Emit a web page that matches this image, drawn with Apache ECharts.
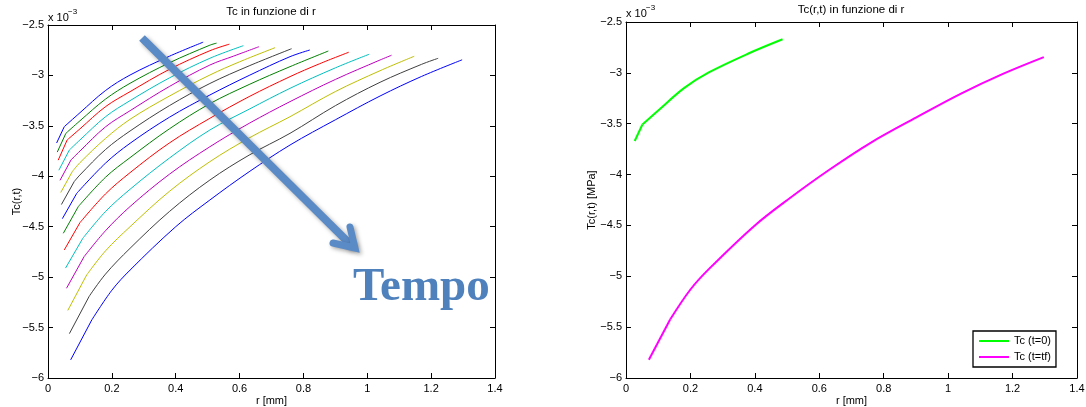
<!DOCTYPE html>
<html>
<head>
<meta charset="utf-8">
<script src="https://cdn.jsdelivr.net/npm/echarts@6/dist/echarts.min.js"></script>
<style>
  html, body { margin: 0; padding: 0; background: #fff; }
  #chart { width: 1086px; height: 407px; }
</style>
</head>
<body>
<div id="chart"></div>
<script>
// Radial positions r [mm] for each time step (one curve per step)
const rCurves = [
  [0.027, 0.051, 0.1, 0.18, 0.257, 0.38, 0.486],
  [0.029, 0.056, 0.1, 0.18, 0.257, 0.38, 0.507, 0.528],
  [0.032, 0.060, 0.1, 0.18, 0.257, 0.38, 0.507, 0.568],
  [0.034, 0.067, 0.1, 0.18, 0.257, 0.38, 0.507, 0.612],
  [0.0376, 0.072, 0.1, 0.18, 0.257, 0.38, 0.507, 0.58, 0.661],
  [0.040, 0.076, 0.1, 0.18, 0.257, 0.38, 0.507, 0.6, 0.711],
  [0.042, 0.082, 0.1, 0.18, 0.257, 0.38, 0.507, 0.63, 0.763],
  [0.045, 0.090, 0.18, 0.257, 0.38, 0.507, 0.63, 0.758, 0.82],
  [0.048, 0.095, 0.18, 0.257, 0.38, 0.507, 0.63, 0.758, 0.878],
  [0.051, 0.100, 0.18, 0.257, 0.38, 0.507, 0.63, 0.758, 0.85, 0.942],
  [0.055, 0.109, 0.18, 0.257, 0.38, 0.507, 0.63, 0.758, 0.9, 1.006],
  [0.058, 0.113, 0.18, 0.257, 0.38, 0.507, 0.63, 0.758, 0.9, 1.04, 1.076],
  [0.062, 0.121, 0.18, 0.257, 0.38, 0.507, 0.63, 0.758, 0.9, 1.04, 1.147],
  [0.067, 0.129, 0.18, 0.257, 0.38, 0.507, 0.63, 0.758, 0.9, 1.04, 1.17, 1.222],
  [0.071, 0.137, 0.2, 0.257, 0.4, 0.507, 0.63, 0.758, 0.9, 1.04, 1.17, 1.297]
];

// Tc(r,t) values, in units of 10^-3 MPa, matching rCurves point by point
const tcCurves = [
  [-3.67, -3.508, -3.37, -3.15, -2.996, -2.81, -2.67],
  [-3.76, -3.574, -3.45, -3.235, -3.078, -2.875, -2.70, -2.68],
  [-3.84, -3.64, -3.53, -3.31, -3.161, -2.94, -2.755, -2.69],
  [-3.94, -3.739, -3.64, -3.41, -3.25, -3.025, -2.83, -2.705],
  [-4.04, -3.838, -3.75, -3.51, -3.35, -3.11, -2.897, -2.81, -2.715],
  [-4.16, -3.954, -3.865, -3.625, -3.435, -3.205, -2.996, -2.865, -2.725],
  [-4.28, -4.053, -3.987, -3.735, -3.551, -3.30, -3.08, -2.905, -2.735],
  [-4.42, -4.169, -3.87, -3.673, -3.415, -3.194, -3.0, -2.814, -2.748],
  [-4.565, -4.30, -4.01, -3.815, -3.53, -3.28, -3.09, -2.913, -2.758],
  [-4.73, -4.46, -4.175, -3.964, -3.67, -3.425, -3.21, -3.012, -2.885, -2.77],
  [-4.91, -4.615, -4.35, -4.129, -3.82, -3.541, -3.335, -3.128, -2.925, -2.79],
  [-5.11, -4.797, -4.54, -4.30, -3.98, -3.707, -3.475, -3.26, -3.04, -2.847, -2.80],
  [-5.33, -4.979, -4.74, -4.50, -4.15, -3.855, -3.62, -3.409, -3.16, -2.953, -2.81],
  [-5.56, -5.19, -4.97, -4.714, -4.35, -4.037, -3.79, -3.574, -3.30, -3.068, -2.89, -2.83],
  [-5.82, -5.425, -5.13, -4.93, -4.5, -4.235, -3.955, -3.69, -3.44, -3.204, -3.01, -2.845]
];

// MATLAB-style colour cycle for the time-step curves
const cycleColors = ['#0000ff', '#008000', '#ff0000', '#00bfbf', '#bf00bf', '#bfbf00', '#404040'];

// Series shown in the comparison panel: first and last time step
const compareNames = ['Tc (t=0)', 'Tc (t=tf)'];
const compareColors = ['#00ff00', '#ff00ff'];
const compareIdx = [0, tcCurves.length - 1];

// Axis ranges (Tc in 10^-3 MPa)
const rRange = { min: 0, max: 1.4, step: 0.2 };
const tcRange = { min: -6, max: -2.5, step: 0.5 };

const FONT = '"Liberation Sans", Arial, Helvetica, sans-serif';
const pairs = (rs, ts) => rs.map((r, i) => [r, ts[i]]);
const minusFmt = v => (v < 0 ? '\u2212' : '') + String(Math.abs(Math.round(v * 1000) / 1000));

function xAx(gridIndex, pos, withLabels, name) {
  return {
    type: 'value', gridIndex, position: pos,
    min: rRange.min, max: rRange.max, interval: rRange.step,
    name: withLabels ? name : '', nameLocation: 'middle', nameGap: 17, nameMoveOverlap: false,
    nameTextStyle: { fontFamily: FONT, fontSize: 11, color: '#000' },
    axisLine: { show: true, onZero: false, lineStyle: { color: '#000', width: 1 } },
    axisTick: { show: true, inside: true, length: 5, lineStyle: { color: '#000' } },
    axisLabel: { show: withLabels, margin: 5, fontFamily: FONT, fontSize: 11, color: '#000' },
    splitLine: { show: false }
  };
}
function yAx(gridIndex, pos, withLabels, name, gap) {
  return {
    type: 'value', gridIndex, position: pos,
    min: tcRange.min, max: tcRange.max, interval: tcRange.step,
    name: withLabels ? name : '', nameLocation: 'middle', nameGap: gap, nameMoveOverlap: false,
    nameTextStyle: { fontFamily: FONT, fontSize: 11, color: '#000' },
    axisLine: { show: true, onZero: false, lineStyle: { color: '#000', width: 1 } },
    axisTick: { show: true, inside: true, length: 5, lineStyle: { color: '#000' } },
    axisLabel: { show: withLabels, margin: 4, fontFamily: FONT, fontSize: 11, color: '#000', formatter: minusFmt },
    splitLine: { show: false }
  };
}

// Each curve: a straight first segment (coarse first grid cell) and a smooth remainder
function curveSeries(name, xi, yi, rs, ts, color, width) {
  const pts = pairs(rs, ts);
  const common = {
    type: 'line', name, xAxisIndex: xi, yAxisIndex: yi,
    symbol: 'none', showSymbol: false, silent: true, z: 2,
    lineStyle: { width, color }, itemStyle: { color }
  };
  return [
    Object.assign({}, common, { data: pts.slice(0, 2), smooth: false }),
    Object.assign({}, common, { data: pts.slice(1), smooth: 0.35 })
  ];
}

const series = [];
tcCurves.forEach((ts, i) => {
  const c = cycleColors[i % cycleColors.length];
  series.push(...curveSeries('step' + (i + 1), 0, 0, rCurves[i], ts, c, 1));
});
compareIdx.forEach((idx, k) => {
  series.push(...curveSeries(compareNames[k], 2, 2, rCurves[idx], tcCurves[idx], compareColors[k], 2));
});

const txt = (x, y, text, size, align, extra) => ({
  type: 'text', x, y, silent: true, z: 50,
  style: Object.assign({
    text, fill: '#000', fontFamily: FONT, fontSize: size,
    align: align, textAlign: align, verticalAlign: 'middle', textVerticalAlign: 'middle'
  }, extra || {})
});

const arrowColor = '#5b8bc6';
const arrowShadow = { shadowBlur: 4, shadowColor: 'rgba(0,0,0,0.35)', shadowOffsetX: 2, shadowOffsetY: 2 };

const option = {
  animation: false,
  backgroundColor: '#fff',
  grid: [
    { left: 48, top: 25, width: 447, height: 353, outerBoundsMode: 'none', containLabel: false },
    { left: 626, top: 22, width: 451, height: 356, outerBoundsMode: 'none', containLabel: false }
  ],
  xAxis: [
    xAx(0, 'bottom', true, 'r [mm]'),
    xAx(0, 'top', false, ''),
    xAx(1, 'bottom', true, 'r [mm]'),
    xAx(1, 'top', false, '')
  ],
  yAxis: [
    yAx(0, 'left', true, 'Tc(r,t)', 26),
    yAx(0, 'right', false, '', 0),
    yAx(1, 'left', true, 'Tc(r,t) [MPa]', 29),
    yAx(1, 'right', false, '', 0)
  ],
  legend: {
    data: compareNames, orient: 'vertical', left: 973, top: 331,
    icon: 'rect', itemWidth: 30, itemHeight: 2, itemGap: 4, padding: [4, 5, 4, 6],
    borderColor: '#000', borderWidth: 1.3, backgroundColor: '#fff',
    selectedMode: false,
    textStyle: { fontFamily: FONT, fontSize: 11, color: '#000', lineHeight: 12 }
  },
  series,
  graphic: [
    txt(271, 12, 'Tc in funzione di r', 11.5, 'center'),
    txt(851, 10, 'Tc(r,t) in funzione di r', 11.5, 'center'),
    txt(48, 18, 'x 10', 11, 'left'),
    txt(68, 12, '\u22123', 8, 'left'),
    txt(626, 14, 'x 10', 11, 'left'),
    txt(646, 8, '\u22123', 8, 'left'),
    {
      type: 'polyline', silent: true, z: 60,
      shape: { points: [[142, 38], [353, 247]] },
      style: Object.assign({ stroke: arrowColor, lineWidth: 8, lineCap: 'butt', fill: null }, arrowShadow)
    },
    {
      type: 'polyline', silent: true, z: 61,
      shape: { points: [[333, 243], [355, 248], [350, 227]] },
      style: Object.assign({ stroke: arrowColor, lineWidth: 7, lineCap: 'round', lineJoin: 'miter', fill: null }, arrowShadow)
    },
    txt(353, 288, 'Tempo', 47, 'left', {
      fill: '#4f81bd', fontFamily: '"Liberation Serif", "DejaVu Serif", serif', fontWeight: 'bold'
    })
  ]
};

const chart = echarts.init(document.getElementById('chart'), null, { renderer: 'canvas' });
chart.setOption(option);
</script>
</body>
</html>
